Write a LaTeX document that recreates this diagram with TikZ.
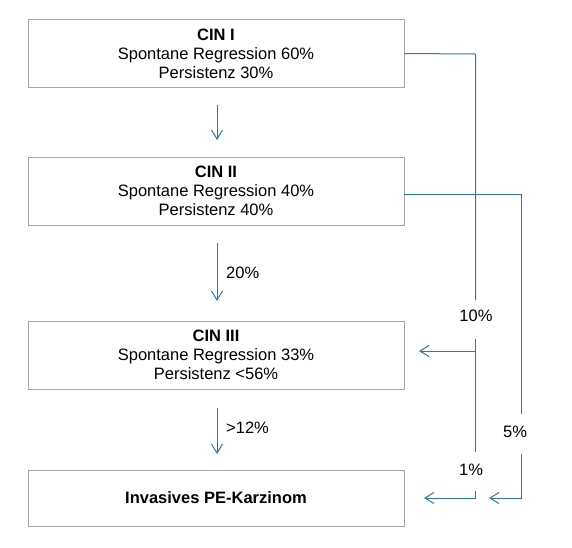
\documentclass[tikz,border=0pt]{standalone}
\usepackage{fontspec}
\setmainfont{Liberation Sans}
\usetikzlibrary{arrows.meta}
\definecolor{boxgray}{RGB}{166,166,166}
\definecolor{lineblue}{RGB}{46,117,182}
\begin{document}
\begin{tikzpicture}[x=1pt,y=-1pt,
  box/.style={draw=boxgray, line width=1pt, minimum width=376pt, inner sep=0pt, align=center, font=\fontsize{16.5}{19}\selectfont},
  conn/.style={draw=lineblue, line width=1pt},
  arr/.style={conn, -{Straight Barb[length=9pt,width=11pt]}},
  lbl/.style={font=\fontsize{16.5}{19}\selectfont, inner sep=0pt}]
\useasboundingbox (0,0) rectangle (572,547);
% boxes
\node[box, minimum height=68pt] (c1) at (216,53.5) {\textbf{CIN I}\\Spontane Regression 60\%\\Persistenz 30\%};
\node[box, minimum height=68pt] (c2) at (216,191) {\textbf{CIN II}\\Spontane Regression 40\%\\Persistenz 40\%};
\node[box, minimum height=68pt] (c3) at (216,355) {\textbf{CIN III}\\Spontane Regression 33\%\\Persistenz <56\%};
\node[box, minimum height=56pt] (c4) at (216,498) {\textbf{Invasives PE-Karzinom}};
% vertical arrows
\coordinate (a1s) at (217,105); \coordinate (a1e) at (217,140);
\coordinate (a2s) at (217,243); \coordinate (a2e) at (217,301);
\coordinate (a3s) at (217,408); \coordinate (a3e) at (217,454);
\draw[arr] (a1s) -- (a1e);
\draw[arr] (a2s) -- (a2e);
\draw[arr] (a3s) -- (a3e);
\node[lbl, anchor=west] (l20) at (226,273) {20\%};
\node[lbl, anchor=west] (l12) at (226,428) {>12\%};
% right connector from CIN I
\coordinate (p1a) at (475.5,54);
\coordinate (p1b) at (475.5,300);
\coordinate (p1c) at (475.5,339);
\coordinate (p1d) at (475.5,452);
\coordinate (p1br) at (475.5,351);
\coordinate (p1t3) at (419,351);
\coordinate (p1e) at (475.5,491);
\coordinate (p1f) at (475.5,498);
\coordinate (p1t4) at (424,498);
\draw[conn] (c1.east) -- (p1a) -- (p1b);
\draw[conn] (p1c) -- (p1d);
\draw[arr] (p1br) -- (p1t3);
\draw[arr] (p1e) -- (p1f) -- (p1t4);
\node[lbl] (l10) at (476,316) {10\%};
\node[lbl] (l1) at (471,470) {1\%};
% right connector from CIN II
\coordinate (p2s) at (404,194);
\coordinate (p2a) at (521.5,194);
\coordinate (p2b) at (521.5,414);
\coordinate (p2c) at (521.5,454);
\coordinate (p2d) at (521.5,498);
\coordinate (p2t) at (489,498);
\draw[conn] (p2s) -- (p2a) -- (p2b);
\draw[arr] (p2c) -- (p2d) -- (p2t);
\node[lbl] (l5) at (515,432) {5\%};
\end{tikzpicture}
\end{document}
